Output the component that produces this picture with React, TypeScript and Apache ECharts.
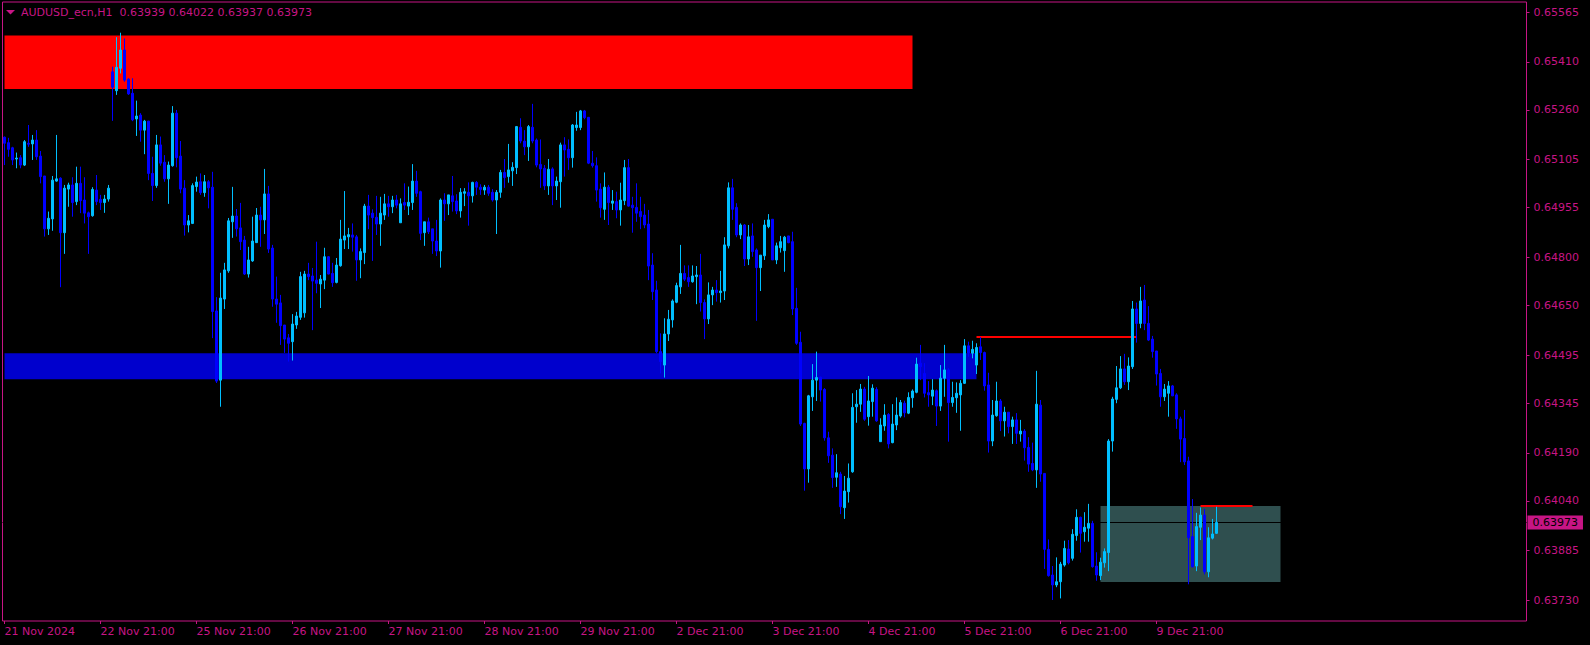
import { useEffect, useRef } from "react";
import * as echarts from "echarts";

// ---- OHLC data (H1 bars, 21 Nov 2024 21:00 onwards) ----
const opens = [
  0.65175, 0.65158, 0.65142, 0.65107, 0.65111, 0.65088, 0.65156, 0.65154, 0.65166, 0.65116,
  0.65054, 0.64889, 0.64920, 0.65038, 0.65047, 0.64877, 0.65013, 0.65026, 0.64974, 0.65031,
  0.64979, 0.64939, 0.64930, 0.65010, 0.64981, 0.64971, 0.64982, 0.65379, 0.65320, 0.65390,
  0.65447, 0.65356, 0.65312, 0.65232, 0.65244, 0.65197, 0.65225, 0.65062, 0.65024, 0.65151,
  0.65097, 0.65045, 0.65086, 0.65250, 0.65116, 0.65016, 0.64901, 0.64906, 0.65021, 0.65036,
  0.65002, 0.65036, 0.65019, 0.64633, 0.64417, 0.64670, 0.64758, 0.64911, 0.64929, 0.64892,
  0.64854, 0.64748, 0.64789, 0.64846, 0.64932, 0.64917, 0.64998, 0.64829, 0.64670, 0.64658,
  0.64589, 0.64549, 0.64537, 0.64589, 0.64613, 0.64627, 0.64748, 0.64742, 0.64729, 0.64717,
  0.64729, 0.64802, 0.64750, 0.64722, 0.64774, 0.64854, 0.64864, 0.64870, 0.64864, 0.64792,
  0.64815, 0.64960, 0.64938, 0.64925, 0.64904, 0.64932, 0.64967, 0.64958, 0.64979, 0.64908,
  0.64971, 0.64960, 0.64971, 0.65038, 0.65005, 0.64877, 0.64911, 0.64889, 0.64851, 0.64820,
  0.64979, 0.64967, 0.64992, 0.64976, 0.64945, 0.65000, 0.65003, 0.64992, 0.65034, 0.65019,
  0.65010, 0.65019, 0.65003, 0.64979, 0.65003, 0.65065, 0.65052, 0.65070, 0.65080, 0.65206,
  0.65163, 0.65145, 0.65206, 0.65166, 0.65090, 0.65078, 0.65023, 0.65076, 0.65023, 0.65036,
  0.65151, 0.65137, 0.65111, 0.65205, 0.65205, 0.65257, 0.65237, 0.65094, 0.65086, 0.65013,
  0.64950, 0.65019, 0.64969, 0.64974, 0.64948, 0.64977, 0.65080, 0.64963, 0.64956, 0.64943,
  0.64932, 0.64904, 0.64776, 0.64698, 0.64506, 0.64464, 0.64561, 0.64605, 0.64660, 0.64708,
  0.64750, 0.64737, 0.64724, 0.64740, 0.64745, 0.64659, 0.64608, 0.64683, 0.64698, 0.64690,
  0.64695, 0.64836, 0.65017, 0.64956, 0.64870, 0.64901, 0.64795, 0.64867, 0.64823, 0.64768,
  0.64805, 0.64896, 0.64919, 0.64792, 0.64830, 0.64821, 0.64867, 0.64849, 0.64641, 0.64535,
  0.64282, 0.64140, 0.64365, 0.64417, 0.64426, 0.64388, 0.64237, 0.64183, 0.64114, 0.64124,
  0.64019, 0.64069, 0.64131, 0.64334, 0.64342, 0.64389, 0.64303, 0.64350, 0.64388, 0.64225,
  0.64274, 0.64310, 0.64222, 0.64277, 0.64305, 0.64345, 0.64314, 0.64362, 0.64379, 0.64470,
  0.64438, 0.64378, 0.64367, 0.64384, 0.64336, 0.64423, 0.64449, 0.64347, 0.64362, 0.64371,
  0.64407, 0.64524, 0.64501, 0.64464, 0.64521, 0.64503, 0.64402, 0.64227, 0.64306, 0.64352,
  0.64290, 0.64317, 0.64272, 0.64293, 0.64249, 0.64258, 0.64207, 0.64157, 0.64137, 0.64339,
  0.64126, 0.63889, 0.63809, 0.63778, 0.63788, 0.63840, 0.63890, 0.63861, 0.63932, 0.63989,
  0.63944, 0.63955, 0.63970, 0.63837, 0.63807, 0.63847, 0.63879, 0.64227, 0.64357, 0.64393,
  0.64452, 0.64412, 0.64459, 0.64639, 0.64594, 0.64667, 0.64594, 0.64545, 0.64508, 0.64438,
  0.64365, 0.64376, 0.64399, 0.64371, 0.64296, 0.64235, 0.64165, 0.63929, 0.63837, 0.63958,
  0.63996, 0.63819, 0.63924, 0.63939,
];

const highs = [
  0.65177, 0.65173, 0.65145, 0.65127, 0.65119, 0.65166, 0.65213, 0.65182, 0.65197, 0.65132,
  0.65054, 0.64943, 0.65054, 0.65182, 0.65050, 0.65026, 0.65033, 0.65050, 0.65083, 0.65083,
  0.65050, 0.64943, 0.65019, 0.65057, 0.64995, 0.64995, 0.65026, 0.65395, 0.65487, 0.65501,
  0.65483, 0.65359, 0.65359, 0.65289, 0.65250, 0.65229, 0.65226, 0.65114, 0.65182, 0.65177,
  0.65119, 0.65099, 0.65272, 0.65260, 0.65163, 0.65041, 0.64932, 0.65031, 0.65052, 0.65062,
  0.65057, 0.65041, 0.65067, 0.64676, 0.64752, 0.64783, 0.64923, 0.65020, 0.64951, 0.64970,
  0.64867, 0.64833, 0.64927, 0.64954, 0.64958, 0.65076, 0.65023, 0.64839, 0.64740, 0.64683,
  0.64589, 0.64561, 0.64623, 0.64630, 0.64755, 0.64758, 0.64783, 0.64767, 0.64849, 0.64745,
  0.64830, 0.64804, 0.64783, 0.64798, 0.64917, 0.65007, 0.64892, 0.64906, 0.64870, 0.64828,
  0.64967, 0.64995, 0.64950, 0.64992, 0.64989, 0.64998, 0.64992, 0.64992, 0.64995, 0.64984,
  0.65031, 0.65021, 0.65091, 0.65070, 0.65008, 0.64911, 0.64924, 0.64889, 0.64917, 0.64984,
  0.65000, 0.64995, 0.65054, 0.64997, 0.65016, 0.65016, 0.65034, 0.65036, 0.65038, 0.65028,
  0.65026, 0.65026, 0.65013, 0.65010, 0.65073, 0.65107, 0.65154, 0.65097, 0.65210, 0.65234,
  0.65197, 0.65213, 0.65279, 0.65171, 0.65168, 0.65088, 0.65107, 0.65081, 0.65052, 0.65158,
  0.65175, 0.65168, 0.65216, 0.65254, 0.65260, 0.65260, 0.65238, 0.65132, 0.65112, 0.65031,
  0.65065, 0.65026, 0.65010, 0.65005, 0.65033, 0.65104, 0.65107, 0.64989, 0.65031, 0.64989,
  0.64967, 0.64948, 0.64813, 0.64727, 0.64563, 0.64610, 0.64636, 0.64669, 0.64721, 0.64839,
  0.64775, 0.64775, 0.64775, 0.64773, 0.64811, 0.64669, 0.64722, 0.64708, 0.64729, 0.64758,
  0.64863, 0.65034, 0.65045, 0.64969, 0.64906, 0.64904, 0.64901, 0.64906, 0.64828, 0.64807,
  0.64917, 0.64935, 0.64919, 0.64846, 0.64867, 0.64867, 0.64867, 0.64880, 0.64705, 0.64568,
  0.64284, 0.64371, 0.64467, 0.64506, 0.64428, 0.64392, 0.64256, 0.64204, 0.64186, 0.64131,
  0.64118, 0.64157, 0.64376, 0.64386, 0.64405, 0.64396, 0.64430, 0.64404, 0.64395, 0.64298,
  0.64342, 0.64314, 0.64342, 0.64363, 0.64355, 0.64353, 0.64379, 0.64388, 0.64487, 0.64527,
  0.64470, 0.64414, 0.64420, 0.64388, 0.64464, 0.64527, 0.64454, 0.64412, 0.64410, 0.64417,
  0.64545, 0.64537, 0.64540, 0.64532, 0.64551, 0.64506, 0.64440, 0.64355, 0.64412, 0.64358,
  0.64334, 0.64317, 0.64303, 0.64314, 0.64293, 0.64264, 0.64239, 0.64222, 0.64446, 0.64355,
  0.64126, 0.63920, 0.63837, 0.63864, 0.63850, 0.63916, 0.63918, 0.63952, 0.64014, 0.63991,
  0.64005, 0.64031, 0.63978, 0.63880, 0.63863, 0.63892, 0.64233, 0.64365, 0.64461, 0.64492,
  0.64499, 0.64488, 0.64664, 0.64659, 0.64708, 0.64714, 0.64648, 0.64555, 0.64508, 0.64452,
  0.64405, 0.64414, 0.64402, 0.64376, 0.64303, 0.64324, 0.64178, 0.64046, 0.64003, 0.64020,
  0.64015, 0.63958, 0.63984, 0.64022,
];

const lows = [
  0.65088, 0.65114, 0.65088, 0.65078, 0.65078, 0.65085, 0.65145, 0.65104, 0.65104, 0.65031,
  0.64865, 0.64870, 0.64883, 0.65036, 0.64707, 0.64811, 0.64958, 0.64927, 0.64963, 0.64938,
  0.64906, 0.64811, 0.64927, 0.64963, 0.64948, 0.64939, 0.64974, 0.65226, 0.65307, 0.65374,
  0.65348, 0.65307, 0.65225, 0.65179, 0.65161, 0.65122, 0.65041, 0.64976, 0.65017, 0.65086,
  0.65036, 0.64967, 0.65083, 0.65081, 0.65000, 0.64868, 0.64878, 0.64904, 0.65005, 0.64995,
  0.64989, 0.64953, 0.64548, 0.64408, 0.64334, 0.64639, 0.64752, 0.64861, 0.64865, 0.64823,
  0.64745, 0.64737, 0.64786, 0.64845, 0.64833, 0.64873, 0.64814, 0.64646, 0.64596, 0.64527,
  0.64502, 0.64475, 0.64478, 0.64577, 0.64605, 0.64612, 0.64729, 0.64573, 0.64688, 0.64642,
  0.64701, 0.64747, 0.64708, 0.64719, 0.64771, 0.64826, 0.64826, 0.64818, 0.64727, 0.64735,
  0.64779, 0.64888, 0.64789, 0.64870, 0.64836, 0.64917, 0.64927, 0.64938, 0.64953, 0.64908,
  0.64948, 0.64932, 0.64948, 0.64989, 0.64854, 0.64836, 0.64873, 0.64811, 0.64804, 0.64768,
  0.64914, 0.64932, 0.64943, 0.64935, 0.64924, 0.64960, 0.64899, 0.64971, 0.64995, 0.64995,
  0.64995, 0.64992, 0.64974, 0.64873, 0.64986, 0.65017, 0.65033, 0.65023, 0.65060, 0.65156,
  0.65119, 0.65101, 0.65156, 0.65081, 0.65017, 0.65010, 0.64995, 0.64963, 0.64979, 0.64955,
  0.65052, 0.65073, 0.65080, 0.65195, 0.65197, 0.65231, 0.65091, 0.65080, 0.64974, 0.64924,
  0.64917, 0.64901, 0.64948, 0.64922, 0.64899, 0.64963, 0.64958, 0.64877, 0.64911, 0.64888,
  0.64891, 0.64729, 0.64667, 0.64501, 0.64438, 0.64425, 0.64539, 0.64581, 0.64657, 0.64686,
  0.64726, 0.64708, 0.64721, 0.64654, 0.64631, 0.64545, 0.64592, 0.64651, 0.64662, 0.64659,
  0.64667, 0.64828, 0.64917, 0.64863, 0.64857, 0.64773, 0.64776, 0.64802, 0.64602, 0.64695,
  0.64792, 0.64891, 0.64792, 0.64779, 0.64815, 0.64755, 0.64844, 0.64620, 0.64527, 0.64274,
  0.64072, 0.64097, 0.64321, 0.64352, 0.64350, 0.64228, 0.64159, 0.64081, 0.64084, 0.63999,
  0.63984, 0.64035, 0.64128, 0.64284, 0.64318, 0.64290, 0.64275, 0.64303, 0.64287, 0.64225,
  0.64259, 0.64204, 0.64220, 0.64261, 0.64300, 0.64301, 0.64311, 0.64331, 0.64376, 0.64417,
  0.64363, 0.64334, 0.64339, 0.64274, 0.64321, 0.64365, 0.64225, 0.64334, 0.64315, 0.64259,
  0.64405, 0.64490, 0.64485, 0.64436, 0.64480, 0.64384, 0.64191, 0.64211, 0.64303, 0.64258,
  0.64241, 0.64251, 0.64218, 0.64218, 0.64225, 0.64166, 0.64131, 0.64133, 0.64081, 0.64100,
  0.63828, 0.63804, 0.63731, 0.63771, 0.63736, 0.63835, 0.63842, 0.63854, 0.63916, 0.63879,
  0.63913, 0.63913, 0.63832, 0.63791, 0.63793, 0.63832, 0.63821, 0.64194, 0.64345, 0.64389,
  0.64402, 0.64386, 0.64452, 0.64534, 0.64579, 0.64573, 0.64539, 0.64487, 0.64400, 0.64334,
  0.64352, 0.64303, 0.64367, 0.64265, 0.64161, 0.64152, 0.63780, 0.63832, 0.63821, 0.63918,
  0.63811, 0.63802, 0.63920, 0.63937,
];

const closes = [
  0.65156, 0.65137, 0.65104, 0.65110, 0.65088, 0.65161, 0.65153, 0.65166, 0.65114, 0.65052,
  0.64889, 0.64922, 0.65041, 0.65045, 0.64877, 0.65016, 0.65026, 0.64971, 0.65031, 0.64977,
  0.64938, 0.64927, 0.65012, 0.64974, 0.64971, 0.64982, 0.65016, 0.65331, 0.65393, 0.65447,
  0.65353, 0.65310, 0.65229, 0.65241, 0.65197, 0.65225, 0.65062, 0.65024, 0.65151, 0.65094,
  0.65045, 0.65088, 0.65250, 0.65111, 0.65013, 0.64901, 0.64914, 0.65024, 0.65035, 0.65002,
  0.65036, 0.65017, 0.64631, 0.64414, 0.64673, 0.64761, 0.64914, 0.64929, 0.64889, 0.64849,
  0.64748, 0.64792, 0.64851, 0.64932, 0.64917, 0.64998, 0.64826, 0.64670, 0.64654, 0.64587,
  0.64545, 0.64532, 0.64592, 0.64617, 0.64740, 0.64748, 0.64740, 0.64726, 0.64719, 0.64732,
  0.64802, 0.64748, 0.64721, 0.64776, 0.64857, 0.64867, 0.64871, 0.64863, 0.64792, 0.64818,
  0.64960, 0.64932, 0.64924, 0.64904, 0.64938, 0.64967, 0.64958, 0.64979, 0.64963, 0.64967,
  0.64963, 0.64972, 0.65038, 0.65000, 0.64875, 0.64911, 0.64880, 0.64851, 0.64820, 0.64979,
  0.64967, 0.64995, 0.64974, 0.64945, 0.65003, 0.65005, 0.64992, 0.65034, 0.65019, 0.65012,
  0.65019, 0.65000, 0.64979, 0.65003, 0.65065, 0.65049, 0.65073, 0.65081, 0.65208, 0.65163,
  0.65145, 0.65208, 0.65163, 0.65088, 0.65076, 0.65023, 0.65075, 0.65023, 0.65038, 0.65151,
  0.65135, 0.65111, 0.65213, 0.65213, 0.65257, 0.65236, 0.65094, 0.65086, 0.65010, 0.64955,
  0.65019, 0.64971, 0.64976, 0.64948, 0.64979, 0.65080, 0.64960, 0.64955, 0.64938, 0.64927,
  0.64901, 0.64773, 0.64693, 0.64506, 0.64475, 0.64561, 0.64607, 0.64664, 0.64712, 0.64750,
  0.64732, 0.64724, 0.64742, 0.64745, 0.64659, 0.64608, 0.64683, 0.64698, 0.64690, 0.64695,
  0.64839, 0.65017, 0.64950, 0.64870, 0.64901, 0.64795, 0.64864, 0.64818, 0.64768, 0.64807,
  0.64901, 0.64917, 0.64792, 0.64836, 0.64849, 0.64863, 0.64846, 0.64639, 0.64532, 0.64280,
  0.64140, 0.64368, 0.64417, 0.64425, 0.64386, 0.64237, 0.64181, 0.64113, 0.64128, 0.64022,
  0.64071, 0.64111, 0.64332, 0.64342, 0.64389, 0.64295, 0.64352, 0.64392, 0.64290, 0.64277,
  0.64308, 0.64218, 0.64280, 0.64308, 0.64347, 0.64315, 0.64363, 0.64383, 0.64467, 0.64459,
  0.64376, 0.64371, 0.64386, 0.64336, 0.64423, 0.64449, 0.64347, 0.64363, 0.64376, 0.64407,
  0.64524, 0.64501, 0.64513, 0.64519, 0.64503, 0.64399, 0.64227, 0.64308, 0.64352, 0.64290,
  0.64317, 0.64272, 0.64293, 0.64251, 0.64258, 0.64206, 0.64155, 0.64137, 0.64342, 0.64124,
  0.63889, 0.63807, 0.63778, 0.63788, 0.63843, 0.63892, 0.63847, 0.63936, 0.63989, 0.63939,
  0.63958, 0.63970, 0.63835, 0.63809, 0.63849, 0.63882, 0.64227, 0.64358, 0.64393, 0.64452,
  0.64412, 0.64461, 0.64639, 0.64594, 0.64664, 0.64594, 0.64542, 0.64506, 0.64436, 0.64365,
  0.64389, 0.64399, 0.64368, 0.64296, 0.64233, 0.64162, 0.63925, 0.63835, 0.63960, 0.63996,
  0.63819, 0.63925, 0.63937, 0.63973,
];

// ---- axes ----
const SLOT_COUNT = 381; // bar slots incl. empty chart shift on the right
const xTickIndexes = [0, 24, 48, 72, 96, 120, 144, 168, 192, 216, 240, 264, 288];
const xTickLabels = [
  "21 Nov 2024", "22 Nov 21:00", "25 Nov 21:00", "26 Nov 21:00", "27 Nov 21:00",
  "28 Nov 21:00", "29 Nov 21:00", "2 Dec 21:00", "3 Dec 21:00", "4 Dec 21:00",
  "5 Dec 21:00", "6 Dec 21:00", "9 Dec 21:00",
];
const yTickValues = [
  0.65565, 0.6541, 0.6526, 0.65105, 0.64955, 0.648, 0.6465, 0.64495, 0.64345,
  0.6419, 0.6404, 0.63885, 0.6373,
];
const Y_MIN = 0.636655;
const Y_MAX = 0.655968;

// ---- header ----
const symbolName = "AUDUSD_ecn,H1";
const lastQuote = ["0.63939", "0.64022", "0.63937", "0.63973"];
const bidPrice = 0.63973;

// ---- drawn objects: [fromBar, toBar, top, bottom] ----
const supplyZone = [0, 227, 0.65492, 0.65325];
const demandZone = [0, 243, 0.64501, 0.6442];
const boxZone = [274, 319, 0.64024, 0.63787];
// trend lines: [fromBar, toBar, price]
const redLine1 = [243, 283, 0.64552];
const redLine2 = [299, 312, 0.64025];

const MAGENTA = "#c71585";
const FONT = "DejaVu Sans";

export default function App() {
  const ref = useRef<HTMLDivElement>(null);

  useEffect(() => {
    document.body.style.margin = "0";
    document.body.style.background = "#000";
    if (!ref.current) return;
    const chart = echarts.init(ref.current, null, { renderer: "svg" });

    const categories = Array.from({ length: SLOT_COUNT }, (_, i) => String(i));
    const candles = opens.map((o, i) => [o, closes[i], lows[i], highs[i]]);
    const isTick = (idx: number) => xTickIndexes.indexOf(idx) >= 0;

    const zone = (z: number[], color: string) => [
      { xAxis: String(z[0]), yAxis: z[2], itemStyle: { color, opacity: 1 } },
      { xAxis: String(z[1]), yAxis: z[3] },
    ];
    const seg = (l: number[], color: string, width: number) => [
      { coord: [String(l[0]), l[2]], lineStyle: { color, width, type: "solid" } },
      { coord: [String(l[1]), l[2]] },
    ];

    chart.setOption({
      animation: false,
      backgroundColor: "#000000",
      grid: {
        left: 2.5,
        top: 2,
        width: 1524,
        height: 619,
        show: true,
        borderColor: MAGENTA,
        borderWidth: 1,
        backgroundColor: "transparent",
      },
      xAxis: {
        type: "category",
        data: categories,
        boundaryGap: true,
        axisLine: { show: false },
        splitLine: { show: false },
        axisTick: {
          show: true,
          alignWithLabel: true,
          interval: (idx: number) => isTick(idx),
          length: 3,
          lineStyle: { color: MAGENTA },
        },
        axisLabel: {
          interval: (idx: number) => isTick(idx),
          formatter: (v: string) => {
            const k = xTickIndexes.indexOf(Number(v));
            return k >= 0 ? xTickLabels[k] : "";
          },
          align: "left",
          margin: 5,
          color: MAGENTA,
          fontFamily: FONT,
          fontSize: 11,
        },
      },
      yAxis: {
        type: "value",
        position: "right",
        min: Y_MIN,
        max: Y_MAX,
        axisLine: { show: false },
        splitLine: { show: false },
        axisTick: {
          show: true,
          customValues: yTickValues,
          length: 3,
          lineStyle: { color: MAGENTA },
        },
        axisLabel: {
          customValues: yTickValues,
          formatter: (v: number) => v.toFixed(5),
          margin: 7,
          color: MAGENTA,
          fontFamily: FONT,
          fontSize: 11,
        },
      },
      graphic: [
        {
          type: "polygon",
          shape: { points: [[6, 10], [15, 10], [10.5, 14.5]] },
          style: { fill: MAGENTA },
        },
        {
          type: "text",
          x: 21,
          y: 12.5,
          style: {
            text: symbolName + "  " + lastQuote.join(" "),
            fill: MAGENTA,
            font: `11px "${FONT}"`,
            verticalAlign: "middle",
          },
        },
      ],
      series: [
        {
          type: "candlestick",
          z: 2,
          barWidth: 2,
          data: candles,
          itemStyle: {
            color: "#00bfff",
            color0: "#0000ff",
            borderColor: "#00bfff",
            borderColor0: "#0000ff",
            borderWidth: 1,
          },
          markArea: {
            silent: true,
            z: 0,
            data: [
              zone(supplyZone, "#ff0000"),
              zone(demandZone, "#0000cd"),
              zone(boxZone, "#2f4f4f"),
            ],
          },
          markLine: {
            silent: true,
            z: 1,
            precision: 5,
            symbol: "none",
            label: { show: false },
            data: [
              seg(redLine1, "#ff0000", 2),
              seg(redLine2, "#ff0000", 2),
              {
                yAxis: bidPrice,
                lineStyle: { color: "#000000", width: 1, type: "solid" },
                label: {
                  show: true,
                  position: "end",
                  distance: 1,
                  formatter: bidPrice.toFixed(5),
                  backgroundColor: MAGENTA,
                  color: "#000000",
                  padding: [1, 5, 1, 5],
                  fontFamily: FONT,
                  fontSize: 11,
                  lineHeight: 12,
                },
              },
            ],
          },
        },
      ],
    });

    return () => chart.dispose();
  }, []);

  return (
    <div
      ref={ref}
      style={{ position: "fixed", left: 0, top: 0, width: 1590, height: 645, background: "#000" }}
    />
  );
}
